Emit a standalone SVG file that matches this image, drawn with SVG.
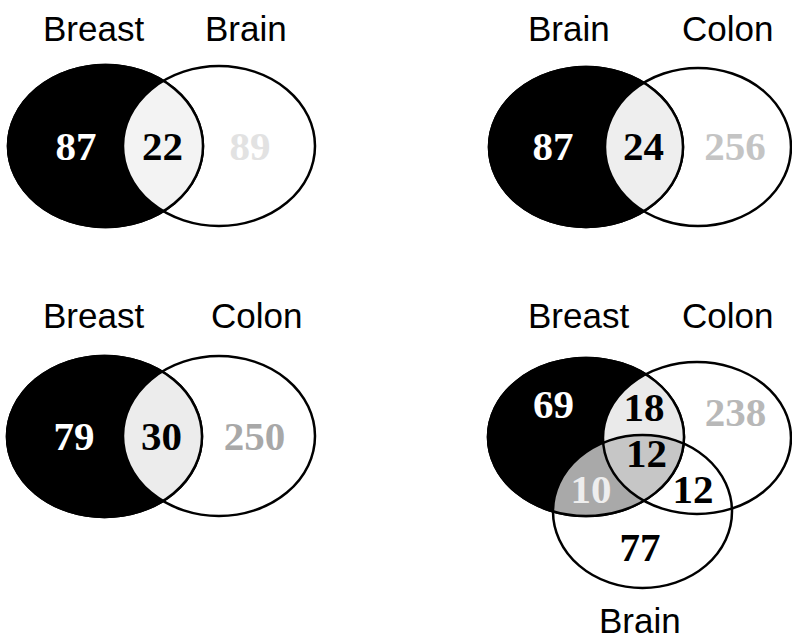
<svg xmlns="http://www.w3.org/2000/svg" width="792" height="642" viewBox="0 0 792 642">
<style>
.lbl{font-family:"Liberation Sans",Arial,sans-serif;font-size:35px;fill:#000}
.num{font-family:"Liberation Serif","Times New Roman",serif;font-size:41px;font-weight:bold;text-anchor:middle}
.blk{fill:#000;stroke:#000;stroke-width:2.5}
.out{fill:none;stroke:#000;stroke-width:2.5}
</style>
<defs>
<clipPath id="c1"><ellipse cx="105.5" cy="146" rx="97.5" ry="81"/></clipPath>
<clipPath id="c2"><ellipse cx="586" cy="147" rx="97" ry="80"/></clipPath>
<clipPath id="c3"><ellipse cx="104.5" cy="436.5" rx="97.5" ry="80.5"/></clipPath>
<clipPath id="c4"><ellipse cx="586" cy="437" rx="98" ry="79"/></clipPath>
<clipPath id="c4c"><ellipse cx="697" cy="438" rx="94" ry="76"/></clipPath>
</defs>
<rect width="792" height="642" fill="#fff"/>

<g id="diagram-breast-brain">
  <text class="lbl" x="43" y="41">Breast</text>
  <text class="lbl" x="205" y="41">Brain</text>
  <g id="tl-breast"><ellipse class="blk" cx="105.5" cy="146" rx="97.5" ry="81"/></g>
  <g id="tl-brain">
    <ellipse cx="219" cy="146" rx="96" ry="80" fill="#f3f3f3" clip-path="url(#c1)"/>
    <ellipse class="out" cx="105.5" cy="146" rx="97.5" ry="81"/>
    <ellipse class="out" cx="219" cy="146" rx="96" ry="80"/>
  </g>
  <text class="num" x="76" y="160" fill="#fff">87</text>
  <text class="num" x="162.5" y="160" fill="#000">22</text>
  <text class="num" x="250" y="160" fill="#e2e2e2">89</text>
</g>

<g id="diagram-brain-colon">
  <text class="lbl" x="528" y="41">Brain</text>
  <text class="lbl" x="682" y="41">Colon</text>
  <g id="tr-brain"><ellipse class="blk" cx="586" cy="147" rx="97" ry="80"/></g>
  <g id="tr-colon">
    <ellipse cx="698" cy="147" rx="93" ry="79" fill="#eeeeee" clip-path="url(#c2)"/>
    <ellipse class="out" cx="586" cy="147" rx="97" ry="80"/>
    <ellipse class="out" cx="698" cy="147" rx="93" ry="79"/>
  </g>
  <text class="num" x="553" y="160" fill="#fff">87</text>
  <text class="num" x="643.5" y="160" fill="#000">24</text>
  <text class="num" x="735" y="160" fill="#c4c4c4">256</text>
</g>

<g id="diagram-breast-colon">
  <text class="lbl" x="43" y="328">Breast</text>
  <text class="lbl" x="211" y="328">Colon</text>
  <g id="bl-breast"><ellipse class="blk" cx="104.5" cy="436.5" rx="97.5" ry="80.5"/></g>
  <g id="bl-colon">
    <ellipse cx="219" cy="436" rx="96" ry="80" fill="#ececec" clip-path="url(#c3)"/>
    <ellipse class="out" cx="104.5" cy="436.5" rx="97.5" ry="80.5"/>
    <ellipse class="out" cx="219" cy="436" rx="96" ry="80"/>
  </g>
  <text class="num" x="74" y="450" fill="#fff">79</text>
  <text class="num" x="161.5" y="450" fill="#000">30</text>
  <text class="num" x="254.5" y="450" fill="#a8a8a8">250</text>
</g>

<g id="diagram-three-way">
  <text class="lbl" x="528" y="328">Breast</text>
  <text class="lbl" x="682" y="328">Colon</text>
  <text class="lbl" x="599" y="633">Brain</text>
  <g id="br-breast"><ellipse class="blk" cx="586" cy="437" rx="98" ry="79"/></g>
  <g id="br-colon">
    <ellipse cx="697" cy="438" rx="94" ry="76" fill="#eaeaea" clip-path="url(#c4)"/>
  </g>
  <g id="br-brain">
    <ellipse cx="642.5" cy="511.5" rx="89.5" ry="76.5" fill="#a9a9a9" clip-path="url(#c4)"/>
    <g clip-path="url(#c4)"><ellipse cx="642.5" cy="511.5" rx="89.5" ry="76.5" fill="#c6c6c6" clip-path="url(#c4c)"/></g>
  </g>
  <ellipse class="out" cx="586" cy="437" rx="98" ry="79"/>
  <ellipse class="out" cx="697" cy="438" rx="94" ry="76"/>
  <ellipse class="out" cx="642.5" cy="511.5" rx="89.5" ry="76.5"/>
  <text class="num" x="553.5" y="418" fill="#fff">69</text>
  <text class="num" x="644" y="421" fill="#000">18</text>
  <text class="num" x="735.5" y="426" fill="#b8b8b8">238</text>
  <text class="num" x="646.5" y="467" fill="#000">12</text>
  <text class="num" x="591" y="503" fill="#eeeeee">10</text>
  <text class="num" x="693" y="503" fill="#000">12</text>
  <text class="num" x="640" y="561" fill="#000">77</text>
</g>
</svg>
